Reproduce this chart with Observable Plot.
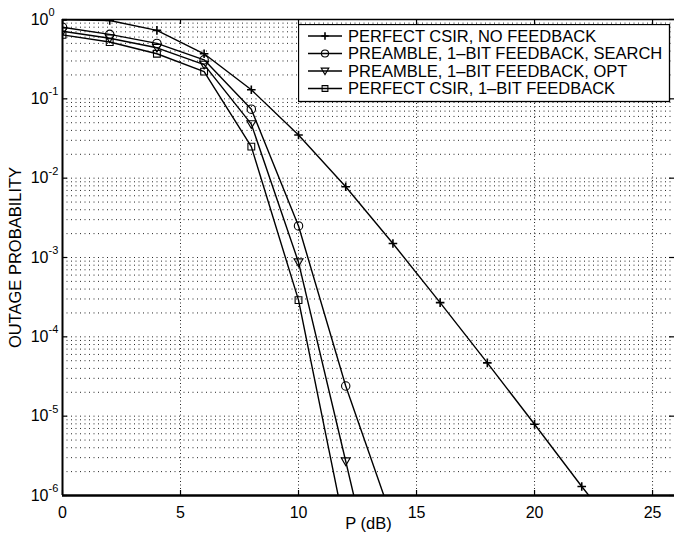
<!DOCTYPE html>
<html><head><meta charset="utf-8">
<script src="https://cdn.jsdelivr.net/npm/d3@7"></script>
<script src="https://cdn.jsdelivr.net/npm/@observablehq/plot@0.6"></script>
<style>
body{margin:0;background:#fff;}
#wrap{position:relative;width:674px;height:540px;overflow:hidden;font-family:"Liberation Sans",Arial,Helvetica,sans-serif;}
#legend{position:absolute;left:298px;top:24px;}
</style></head><body><div id="wrap"><div id="chart"></div><svg id="legend" width="373" height="79"></svg></div>
<script>
// ---- data ----
const seriesNames = [
  "PERFECT CSIR, NO FEEDBACK",
  "PREAMBLE, 1–BIT FEEDBACK, SEARCH",
  "PREAMBLE, 1–BIT FEEDBACK, OPT",
  "PERFECT CSIR, 1–BIT FEEDBACK"
];
const pNoFeedback = [0, 2, 4, 6, 8, 10, 12, 14, 16, 18, 20, 22, 24];
const noFeedback  = [0.99, 0.97, 0.73, 0.37, 0.13, 0.035, 0.0078, 0.0015, 2.7e-4, 4.7e-5, 7.9e-6, 1.3e-6, 2.3e-7];
const pSearch = [0, 2, 4, 6, 8, 10, 12, 14];
const search  = [0.80, 0.65, 0.50, 0.31, 0.074, 2.5e-3, 2.4e-5, 4.7e-7];
const pOpt = [0, 2, 4, 6, 8, 10, 12, 14];
const opt  = [0.71, 0.58, 0.44, 0.27, 0.048, 8.7e-4, 2.7e-6, 8e-9];
const pPerfect1 = [0, 2, 4, 6, 8, 10, 12];
const perfect1  = [0.64, 0.52, 0.37, 0.22, 0.025, 2.9e-4, 3.4e-7];

const xTicks = [0, 5, 10, 15, 20, 25];
const yExps = [0, -1, -2, -3, -4, -5, -6];

// ---- build tables ----
const seriesP = [pNoFeedback, pSearch, pOpt, pPerfect1];
const seriesV = [noFeedback, search, opt, perfect1];
const rows = [];
seriesV.forEach((vals, s) => vals.forEach((v, i) => rows.push({s: seriesNames[s], p: seriesP[s][i], v})));
const yGrid = [];
for (let k = -6; k < 0; k++) for (let m = 1; m <= 9; m++) yGrid.push(m * Math.pow(10, k));
yGrid.push(1);

// ---- marker symbols ----
const rad = size => Math.sqrt(size / Math.PI);
const plusSym = {draw(c, size){const r = rad(size); c.moveTo(-r,0); c.lineTo(r,0); c.moveTo(0,-r); c.lineTo(0,r);}};
const circSym = {draw(c, size){const r = rad(size); c.moveTo(r,0); c.arc(0,0,r,0,2*Math.PI); c.closePath();}};
const triSym  = {draw(c, size){const r = rad(size); c.moveTo(-r,-0.75*r); c.lineTo(r,-0.75*r); c.lineTo(0,0.95*r); c.closePath();}};
const sqSym   = {draw(c, size){const r = rad(size); c.rect(-r,-r,2*r,2*r);}};
const symbols = [plusSym, circSym, triSym, sqSym];
const radii = [4.3, 4.2, 4.5, 3.4];
const widths = [1.6, 1.1, 1.1, 1.1];

const font = "'Liberation Sans', Arial, Helvetica, sans-serif";
const dotMarks = seriesNames.map((name, s) =>
  Plot.dot(rows.filter(d => d.s === name), {x: "p", y: "v", symbol: symbols[s], r: radii[s],
    fill: "none", stroke: "black", strokeWidth: widths[s], clip: true}));

const chart = Plot.plot({
  width: 674, height: 540,
  marginLeft: 62, marginRight: 0, marginTop: 19, marginBottom: 45,
  style: {fontFamily: font, fontSize: "16px", background: "white", color: "black"},
  x: {domain: [0, 25.93], axis: null},
  y: {type: "log", domain: [1e-6, 1], axis: null},
  marks: [
    Plot.ruleY(yGrid, {stroke: "#000", strokeWidth: 1, strokeDasharray: "1,3.5", strokeOpacity: 0.85}),
    Plot.ruleX(xTicks.slice(1), {stroke: "#000", strokeWidth: 1, strokeDasharray: "1,2.5", strokeOpacity: 0.85}),
    Plot.line(rows, {x: "p", y: "v", z: "s", stroke: "black", strokeWidth: 1.4, clip: true}),
    ...dotMarks,
    // frame lines
    Plot.ruleY([1], {stroke: "black", strokeWidth: 1.5}),
    Plot.ruleY([1e-6], {stroke: "black", strokeWidth: 2.3}),
    Plot.ruleX([0], {stroke: "black", strokeWidth: 2}),
    // inward ticks
    Plot.tickX(xTicks, {x: d => d, insetTop: 471, stroke: "black", strokeWidth: 1.2}),
    Plot.tickX(xTicks, {x: d => d, insetBottom: 471, stroke: "black", strokeWidth: 1.2}),
    Plot.tickY(yExps, {y: e => Math.pow(10, e), insetRight: 607, stroke: "black", strokeWidth: 1.2}),
    Plot.tickY(yExps, {y: e => Math.pow(10, e), insetLeft: 607, stroke: "black", strokeWidth: 1.2}),
    // x tick labels
    Plot.text(xTicks, {x: d => d, y: () => 1e-6, text: d => String(d), dy: 17, fontSize: 16, lineAnchor: "middle"}),
    // y tick labels 10^k
    Plot.text(yExps, {x: () => 0, y: e => Math.pow(10, e), text: () => "10", textAnchor: "end", dx: -14, fontSize: 16}),
    Plot.text(yExps, {x: () => 0, y: e => Math.pow(10, e), text: e => e === 0 ? "0" : "-" + (-e), textAnchor: "start", dx: -14, dy: -7, fontSize: 11}),
    // axis labels
    Plot.text(["P (dB)"], {frameAnchor: "bottom", text: d => d, dy: 33, fontSize: 16.5, textAnchor: "middle"}),
    Plot.text(["OUTAGE PROBABILITY"], {frameAnchor: "left", text: d => d, dx: -47, rotate: -90, fontSize: 16.5, textAnchor: "middle"})
  ]
});
document.getElementById("chart").appendChild(chart);

// ---- legend ----
const lg = d3.select("#legend");
lg.append("rect").attr("x", 0.5).attr("y", 0.5).attr("width", 371).attr("height", 77)
  .attr("fill", "white").attr("stroke", "black").attr("stroke-width", 1.3);
const rowY = [12, 29.5, 47, 64.5];
seriesNames.forEach((name, s) => {
  const g = lg.append("g").attr("transform", `translate(0,${rowY[s]})`);
  g.append("line").attr("x1", 10).attr("x2", 44).attr("y1", 0).attr("y2", 0).attr("stroke", "black").attr("stroke-width", 1.4);
  const path = d3.path();
  const r = radii[s] * 0.85;
  symbols[s].draw(path, Math.PI * r * r);
  g.append("path").attr("d", path.toString()).attr("transform", "translate(27,0)")
    .attr("fill", "none").attr("stroke", "black").attr("stroke-width", widths[s]);
  g.append("text").attr("x", 50).attr("y", 0).attr("dy", "0.36em")
    .attr("font-family", font).attr("font-size", "16.5px").attr("fill", "black").text(name);
});
</script>
</body></html>
